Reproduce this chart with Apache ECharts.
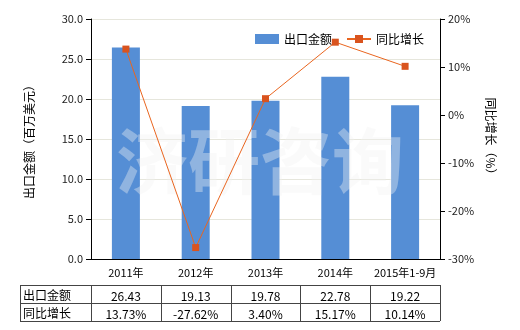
<!DOCTYPE html>
<html><head><meta charset="utf-8">
<script src="https://cdn.jsdelivr.net/npm/echarts@6/dist/echarts.min.js"></script>
<style>html,body{margin:0;padding:0;background:#fff}#c{width:520px;height:330px}</style>
</head><body><div id="c"></div>
<script>
var categories = ['2011年', '2012年', '2013年', '2014年', '2015年1-9月'];
var exportValues = [26.43, 19.13, 19.78, 22.78, 19.22];
var growthValues = [13.73, -27.62, 3.40, 15.17, 10.14];
var barName = '出口金额';
var lineName = '同比增长';
var leftAxisName = '出口金额（百万美元）';
var rightAxisName = '同比增长（%）';
var watermark = '济研咨询';

var chart = echarts.init(document.getElementById('c'), null, {renderer: 'canvas'});
var FONT = '"Noto Sans CJK SC", "Noto Sans", sans-serif';
var G = {left: 91, right: 80, top: 19, bottom: 71};
var plotL = G.left, plotR = 520 - G.right;
var colW = (plotR - plotL) / categories.length;
var tTop = 285, tMid = 303, tBot = 321, tLeft = 20;

var graphics = [];
graphics.push({type: 'text', left: 'center', top: 125, z: 3, silent: true,
  style: {text: watermark, font: 'bold 72px ' + FONT, fill: 'rgba(242,242,242,0.38)'}});
// table
var lineStyle = {stroke: '#444', lineWidth: 1};
function hline(y){ graphics.push({type:'line', z: 10, shape:{x1:tLeft, y1:y, x2:plotR, y2:y}, style: lineStyle}); }
function vline(x){ graphics.push({type:'line', z: 10, shape:{x1:x, y1:tTop, x2:x, y2:tBot}, style: lineStyle}); }
hline(tTop + 0.5); hline(tMid + 0.5); hline(tBot + 0.5);
vline(tLeft + 0.5);
for (var i = 0; i <= categories.length; i++) vline(Math.round(plotL + colW * i) + 0.5);
var rows = [[barName, exportValues.map(function(v){return v.toFixed(2);})],
            [lineName, growthValues.map(function(v){return v.toFixed(2) + '%';})]];
rows.forEach(function(r, ri){
  var yc = ri === 0 ? (tTop + tMid) / 2 + 1 : (tMid + tBot) / 2 + 1;
  graphics.push({type:'text', z: 10, x: tLeft + 3, y: yc,
    style:{text: r[0], font: '12px ' + FONT, fill: '#000', textVerticalAlign: 'middle', verticalAlign: 'middle'}});
  r[1].forEach(function(t, ci){
    graphics.push({type:'text', z: 10, x: plotL + colW * (ci + 0.5), y: yc + 1,
      style:{text: t, font: '12px ' + FONT, fill: '#000', align: 'center', textAlign: 'center', verticalAlign: 'middle', textVerticalAlign: 'middle'}});
  });
});

chart.setOption({
  animation: false,
  textStyle: {fontFamily: FONT},
  grid: {left: G.left, right: G.right, top: G.top, bottom: G.bottom, containLabel: false},
  legend: {
    top: 28, left: 250, itemGap: 14, itemWidth: 24, itemHeight: 10,
    textStyle: {fontSize: 12, color: '#000', fontFamily: FONT},
    data: [{name: barName, icon: 'rect'}, {name: lineName}]
  },
  xAxis: {
    type: 'category', data: categories,
    axisLine: {lineStyle: {color: '#000'}},
    axisTick: {alignWithLabel: true, lineStyle: {color: '#000'}},
    axisLabel: {color: '#000', fontSize: 11, margin: 8, interval: 0}
  },
  yAxis: [{
    type: 'value', min: 0, max: 30, interval: 5,
    name: leftAxisName, nameLocation: 'middle', nameGap: 56, nameRotate: 90,
    nameTextStyle: {fontSize: 12, color: '#000'},
    axisLine: {show: true, lineStyle: {color: '#000'}},
    axisTick: {show: true, lineStyle: {color: '#000'}},
    axisLabel: {color: '#222', fontSize: 11, formatter: function(v){return v.toFixed(1);}},
    splitLine: {lineStyle: {color: '#e6e6dc'}}
  }, {
    type: 'value', min: -30, max: 20, interval: 10,
    name: rightAxisName, nameLocation: 'middle', nameGap: 44, nameRotate: -90,
    nameTextStyle: {fontSize: 12, color: '#000'},
    axisLine: {show: true, lineStyle: {color: '#000'}},
    axisTick: {show: true, lineStyle: {color: '#000'}},
    axisLabel: {color: '#222', fontSize: 11, formatter: '{value}%'},
    splitLine: {show: false}
  }],
  series: [{
    name: barName, type: 'bar', data: exportValues, barWidth: 28,
    itemStyle: {color: '#558ED5'}, z: 2
  }, {
    name: lineName, type: 'line', yAxisIndex: 1, data: growthValues,
    symbol: 'rect', symbolSize: 7, z: 5,
    lineStyle: {color: '#E9651F', width: 1},
    itemStyle: {color: '#D9531E'}
  }],
  graphic: graphics
});
</script></body></html>
